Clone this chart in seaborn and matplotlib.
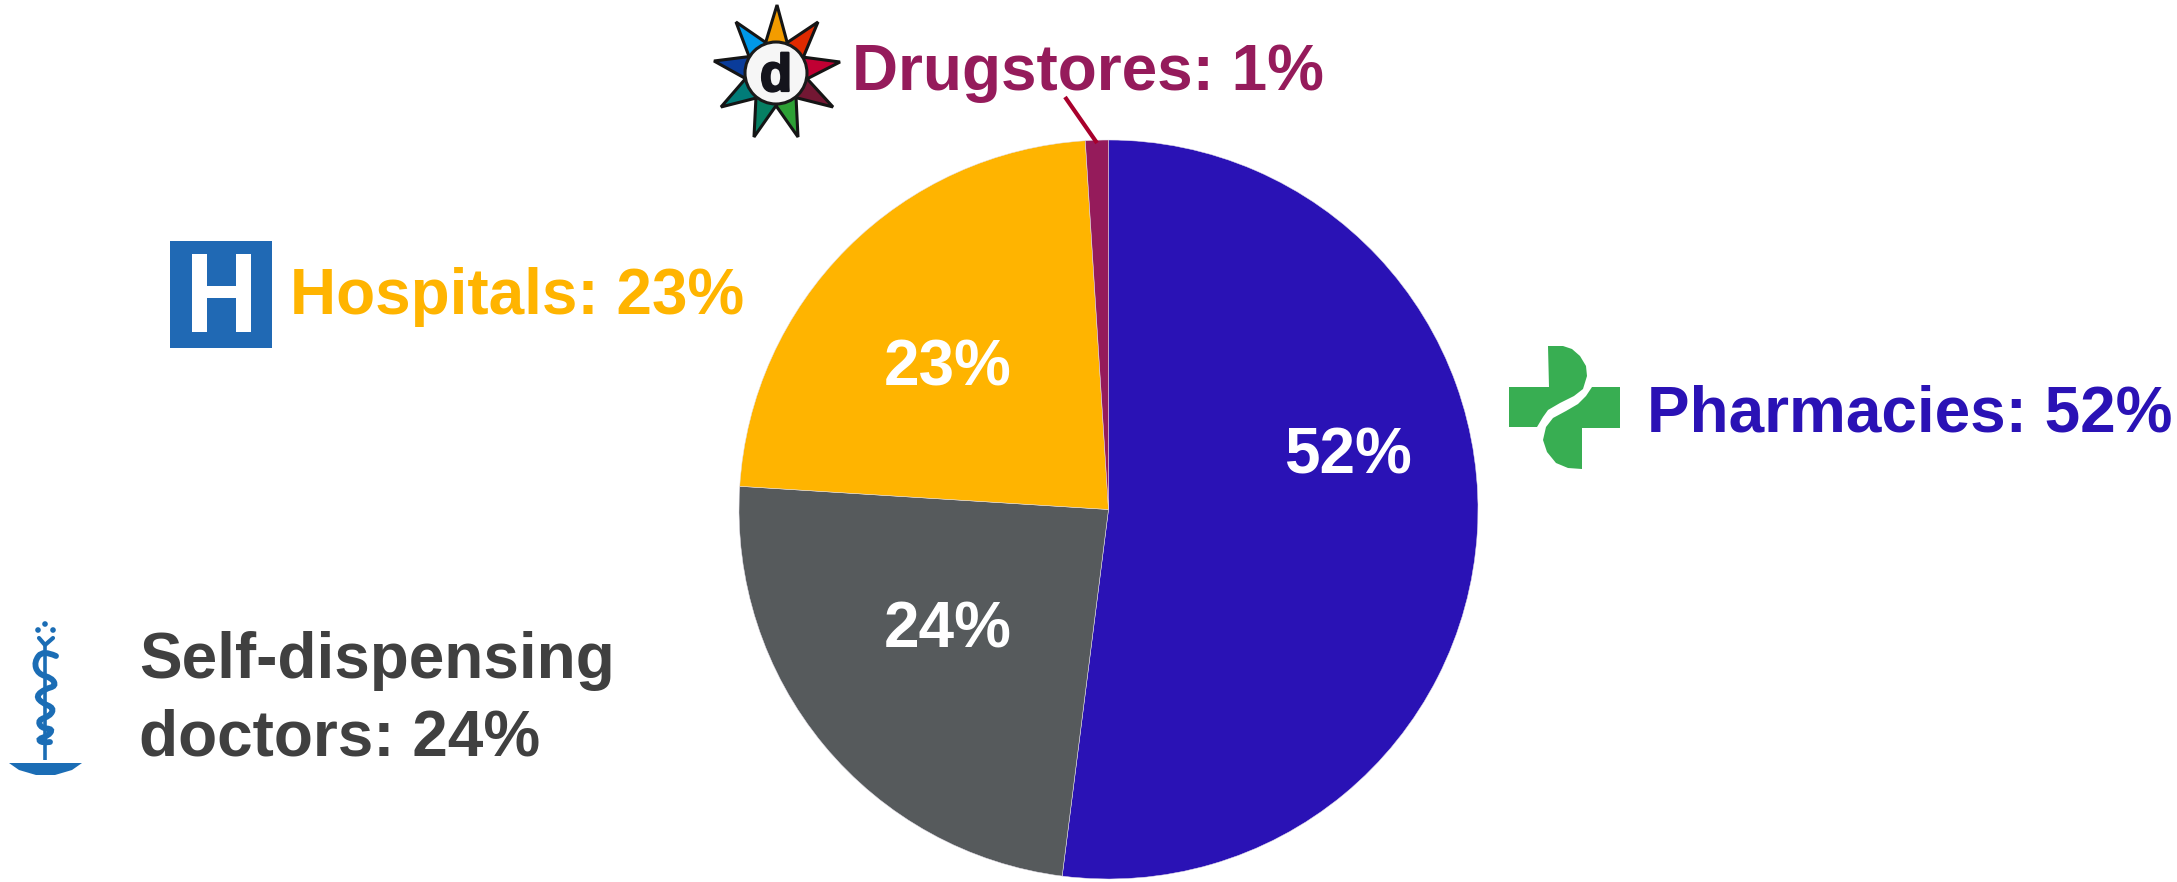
import numpy as np
import matplotlib
matplotlib.use("Agg")
import matplotlib.pyplot as plt
import matplotlib.patheffects as pe
from matplotlib.patches import Circle, Polygon, Rectangle, PathPatch
from matplotlib.path import Path
import seaborn as sns

# Share of drug dispensing by channel
channels = ["Pharmacies", "Self-dispensing doctors", "Hospitals", "Drugstores"]
shares = [52, 24, 23, 1]
slice_colors = ["#2A12B5", "#565A5C", "#FFB400", "#951B5B"]

W, H = 2177, 882
sns.set_theme(style="white")
plt.rcParams["font.family"] = ["Liberation Sans", "DejaVu Sans"]
sns.set_palette(slice_colors)

fig = plt.figure(figsize=(W / 100, H / 100), dpi=100, facecolor="white")

# Pie axes, placed in pixel terms
cx, cy, r = 1108.5, 509.5, 369.5
ax_pie = fig.add_axes([(cx - r) / W, 1 - (cy + r) / H, 2 * r / W, 2 * r / H])
ax_pie.pie(shares, colors=sns.color_palette(), startangle=90, counterclock=False,
           radius=1, wedgeprops={"linewidth": 0.35, "edgecolor": "#E4E0EA"})
ax_pie.set_xlim(-1, 1)
ax_pie.set_ylim(-1, 1)
ax_pie.set_axis_off()

# Overlay in pixel coordinates for labels and icons
ax = fig.add_axes([0, 0, 1, 1], facecolor="none")
ax.set_xlim(0, W)
ax.set_ylim(H, 0)
ax.set_axis_off()


def smooth_path(points, closed=False):
    """Quadratic spline through the midpoints of a control polygon."""
    pts = np.asarray(points, float)
    if closed:
        mids = (pts + np.roll(pts, -1, axis=0)) / 2
        verts = [mids[-1]]
        codes = [Path.MOVETO]
        for p, m in zip(pts, mids):
            verts += [p, m]
            codes += [Path.CURVE3, Path.CURVE3]
        return Path(verts, codes)
    verts = [pts[0]]
    codes = [Path.MOVETO]
    for i in range(1, len(pts) - 1):
        end = pts[i + 1] if i == len(pts) - 2 else (pts[i] + pts[i + 1]) / 2
        verts += [pts[i], end]
        codes += [Path.CURVE3, Path.CURVE3]
    return Path(verts, codes)


FS = 46
label_font = dict(fontsize=FS, fontweight="bold", va="baseline", ha="left")

ax.text(1647, 431, f"{channels[0]}: {shares[0]}%", color=slice_colors[0], **label_font)
ax.text(290, 314, f"{channels[2]}: {shares[2]}%", color=slice_colors[2], **label_font)
ax.text(852, 90, f"{channels[3]}: {shares[3]}%", color=slice_colors[3], **label_font)
ax.text(139, 678, "Self-dispensing", color="#404040", **label_font)
ax.text(139, 755, f"doctors: {shares[1]}%", color="#404040", **label_font)

# Percentages on the slices
for (x, y), v in zip([(1348, 456), (948, 631), (948, 368)], shares[:3]):
    ax.text(x, y, f"{v}%", color="white", fontsize=FS, fontweight="bold",
            ha="center", va="center")

# Leader line to the smallest slice
ax.plot([1065, 1097], [97, 143], color="#A8002C", lw=3, solid_capstyle="butt")

# Hospital sign
ax.add_patch(Rectangle((170, 241), 102, 107, fc="#2069B4", ec="none"))
ax.add_patch(Rectangle((192, 254), 15, 78, fc="white", ec="none"))
ax.add_patch(Rectangle((236, 254), 15, 78, fc="white", ec="none"))
ax.add_patch(Rectangle((192, 286), 59, 12, fc="white", ec="none"))

# Pharmacy cross: two interlocking halves split by an S-curve
green = "#38AE52"
upper = [(1509, 387), (1549, 387), (1548, 346), (1563, 346), (1572, 349), (1580, 356),
         (1586, 366), (1587, 376), (1583, 389), (1574, 396), (1560, 403),
         (1548, 410), (1543, 417), (1537, 427), (1509, 427)]
lower = [(1620, 387), (1620, 428), (1582, 428), (1582, 469), (1568, 468), (1556, 463),
         (1547, 452), (1543, 440), (1546, 427), (1553, 418), (1566, 411),
         (1578, 404), (1586, 396), (1592, 387)]
ax.add_patch(Polygon(upper, closed=True, fc=green, ec="none"))
ax.add_patch(Polygon(lower, closed=True, fc=green, ec="none"))

# Drugstore star badge
sc = np.array([776, 73])
tips = [(777, 5), (818, 22), (840, 62), (833, 107), (798, 137),
        (754, 137), (721, 107), (714, 61), (736, 22)]
star_cols = ["#F39C00", "#E02A00", "#C00033", "#731733", "#2DA035",
             "#067F63", "#017C78", "#0A3C9A", "#0098E8"]
for tip, col in zip(tips, star_cols):
    tip = np.array(tip, float)
    a = np.arctan2(*(tip - sc)[::-1])
    d = 0.37
    b1 = sc + 31 * np.array([np.cos(a - d), np.sin(a - d)])
    b2 = sc + 31 * np.array([np.cos(a + d), np.sin(a + d)])
    ax.add_patch(Polygon([b1, tip, b2], closed=True, fc=col, ec="#151515", lw=2.2,
                         joinstyle="miter", zorder=3))
ax.add_patch(Circle(sc, 31, fc="#F6F6F6", ec="#1A1A1A", lw=2.2, zorder=4))
ax.text(776, 91, "d", color="#14141C", fontsize=38, fontweight="bold", ha="center",
        va="baseline", zorder=5,
        path_effects=[pe.withStroke(linewidth=1.6, foreground="#14141C")])

# Rod and serpent emblem
blue = "#1B6DB5"
ax.plot([45, 45], [645, 760], color=blue, lw=2.6, solid_capstyle="butt")
ax.plot([39, 45, 53], [638, 645, 638], color=blue, lw=3, solid_capstyle="round")
for x, y in [(38, 630), (45, 624), (53, 630)]:
    ax.add_patch(Circle((x, y), 2.8, fc=blue, ec="none"))
snake = [(56, 656), (43, 650), (34, 662), (38, 674), (52, 678), (56, 686), (45, 689),
         (36, 696), (42, 703), (54, 708), (50, 716), (38, 720), (41, 728), (53, 729),
         (48, 736), (38, 739), (42, 743), (50, 742)]
ax.add_patch(PathPatch(smooth_path(snake), fc="none", ec=blue, lw=4.2, capstyle="round"))
dish = [(9, 763), (82, 763), (72, 770), (55, 775), (36, 775), (19, 770)]
ax.add_patch(Polygon(dish, closed=True, fc=blue, ec="none"))

fig.savefig("out.png", dpi=100, facecolor="white")
